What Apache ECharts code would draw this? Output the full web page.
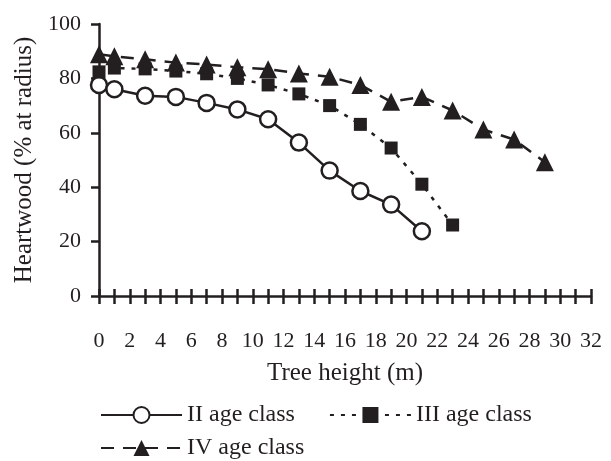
<!DOCTYPE html>
<html>
<head>
<meta charset="utf-8">
<script src="https://cdn.jsdelivr.net/npm/echarts@6/dist/echarts.min.js"></script>
<style>html,body{margin:0;padding:0;background:#fff}#c{width:611px;height:461px}</style>
</head>
<body>
<div id="c"></div>
<script>
const seriesNames = ['II age class', 'III age class', 'IV age class'];
const heightsII = [0, 1, 3, 5, 7, 9, 11, 13, 15, 17, 19, 21];
const heartwoodII = [77.6, 76.0, 73.6, 73.2, 71.0, 68.6, 65.0, 56.4, 46.1, 38.6, 33.6, 23.8];
const heightsIII = [0, 1, 3, 5, 7, 9, 11, 13, 15, 17, 19, 21, 23];
const heartwoodIII = [82.4, 83.8, 83.5, 82.7, 81.7, 80.0, 77.6, 74.3, 70.0, 63.1, 54.4, 41.1, 26.1];
const heightsIV = [0, 1, 3, 5, 7, 9, 11, 13, 15, 17, 19, 21, 23, 25, 27, 29];
const heartwoodIV = [88.9, 88.1, 87.0, 85.8, 85.1, 84.1, 83.4, 81.8, 80.6, 77.6, 71.4, 73.2, 68.2, 61.2, 57.5, 49.2];
const xTicks = [0, 32, 1];
const yTicks = [0, 100, 20];

const ink = '#231f20';
const font = 'Liberation Serif';
const fs = 22;
const nameFs = 25;
const legendFs = 24;
const pair = (xs, ys) => xs.map((x, i) => [x, ys[i]]);

const chart = echarts.init(document.getElementById('c'), null, {renderer: 'canvas'});
chart.setOption({
  animation: false,
  backgroundColor: '#fff',
  textStyle: {fontFamily: font, color: ink},
  grid: {left: 99, right: 20, top: 24, bottom: 165, containLabel: false},
  xAxis: [{
    type: 'value', min: xTicks[0], max: xTicks[1], interval: xTicks[2], position: 'bottom',
    name: 'Tree height (m)', nameLocation: 'middle', nameGap: 65,
    nameTextStyle: {fontFamily: font, fontSize: nameFs, color: ink},
    axisLine: {lineStyle: {color: ink, width: 2.5}},
    axisTick: {show: true, length: 8, lineStyle: {color: ink, width: 2.5}},
    axisLabel: {margin: 34, fontFamily: font, fontSize: fs, color: ink,
      formatter: v => (v % 2 === 0 ? String(v) : '')},
    splitLine: {show: false}
  }, {
    type: 'value', min: xTicks[0], max: xTicks[1], interval: xTicks[2], position: 'bottom', offset: 0,
    axisLine: {show: false},
    axisTick: {show: true, inside: true, length: 7, lineStyle: {color: ink, width: 2.5}},
    axisLabel: {show: false}, splitLine: {show: false}
  }],
  yAxis: {
    type: 'value', min: yTicks[0], max: yTicks[1], interval: yTicks[2],
    name: 'Heartwood (% at radius)', nameLocation: 'middle', nameGap: 53,
    nameTextStyle: {fontFamily: font, fontSize: nameFs, color: ink},
    axisLine: {show: true, lineStyle: {color: ink, width: 2.5}},
    axisTick: {show: true, length: 8, lineStyle: {color: ink, width: 2.5}},
    axisLabel: {margin: 18, fontFamily: font, fontSize: fs, color: ink},
    splitLine: {show: false}
  },
  legend: [{
    data: [seriesNames[0], seriesNames[1]], left: 95, top: 398, orient: 'horizontal',
    itemWidth: 81, itemHeight: 20, itemGap: 34,
    textStyle: {fontFamily: font, fontSize: legendFs, color: ink}
  }, {
    data: [seriesNames[2]], left: 95, top: 431, orient: 'horizontal',
    itemWidth: 81, itemHeight: 20,
    textStyle: {fontFamily: font, fontSize: legendFs, color: ink}
  }],
  series: [{
    name: seriesNames[0], type: 'line', data: pair(heightsII, heartwoodII),
    symbol: 'circle', symbolSize: 16,
    itemStyle: {color: '#fff', borderColor: ink, borderWidth: 2.5},
    lineStyle: {color: ink, width: 2.5, type: 'solid'}
  }, {
    name: seriesNames[1], type: 'line', data: pair(heightsIII, heartwoodIII),
    symbol: 'rect', symbolSize: 13,
    itemStyle: {color: ink},
    lineStyle: {color: ink, width: 2.5, type: [4, 7]}
  }, {
    name: seriesNames[2], type: 'line', data: pair(heightsIV, heartwoodIV),
    symbol: 'triangle', symbolSize: 18,
    itemStyle: {color: ink},
    lineStyle: {color: ink, width: 2.5, type: [13, 9]}
  }]
});
</script>
</body>
</html>
